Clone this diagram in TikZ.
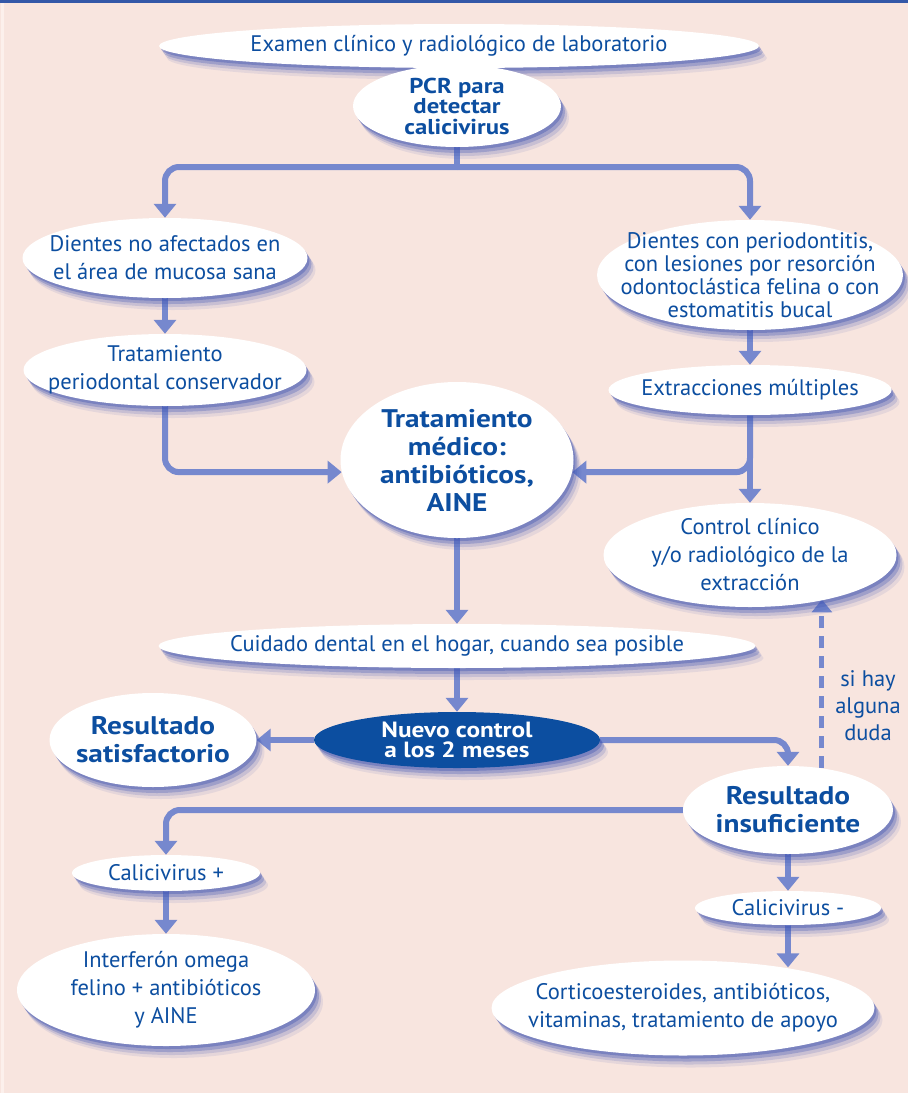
\documentclass[tikz,border=0pt]{standalone}
\usepackage{fontspec}
\setmainfont{PT Sans}[BoldFeatures={FakeStretch=1.15}]
\usetikzlibrary{positioning,arrows.meta,shapes.geometric,shadows,backgrounds}
\definecolor{pagepink}{RGB}{248,229,223}
\definecolor{edgepink}{RGB}{252,240,236}
\definecolor{barblue}{RGB}{52,88,168}
\definecolor{inkblue}{RGB}{12,78,160}
\definecolor{linkblue}{RGB}{118,136,206}
\definecolor{shadeblue}{RGB}{68,88,180}

\begin{document}
\begin{tikzpicture}[x=1pt,y=-1pt,
    softshadow/.style={
      drop shadow={shadow xshift=2pt,shadow yshift=-3pt,opacity=.4,fill=shadeblue},
      drop shadow={shadow xshift=4pt,shadow yshift=-6pt,opacity=.3,fill=shadeblue},
      drop shadow={shadow xshift=6pt,shadow yshift=-9pt,opacity=.18,fill=shadeblue},
      drop shadow={shadow xshift=8pt,shadow yshift=-12pt,opacity=.1,fill=shadeblue}},
    bubble/.style 2 args={ellipse,fill=white,text=inkblue,align=center,
      inner sep=-60pt,minimum width=#1pt,minimum height=#2pt,
      font=\fontsize{22.5}{28}\selectfont,softshadow},
    boldbubble/.style 2 args={bubble={#1}{#2},font=\bfseries\fontsize{25.5}{28}\selectfont},
    link/.style={line width=6pt,draw=linkblue,rounded corners=14pt},
    arrow/.style={link,-{Triangle[width=22pt,length=14pt]}},
    dasharrow/.style={line width=5pt,draw=linkblue,dash pattern=on 12pt off 8pt,
      -{Triangle[width=20pt,length=13pt]}}]
  \useasboundingbox (0,0) rectangle (908,1093);

  \node[bubble={600}{44}] (exam) at (459,46) {Examen clínico y radiológico de laboratorio};
  \node[boldbubble={208}{82},font=\bfseries\fontsize{21.5}{20.5}\selectfont] (pcr) at (457,106)
    {PCR para\\detectar\\calicivirus};
  \node[bubble={285}{80}] (sano) at (165,258) {Dientes no afectados en\\el área de mucosa sana};
  \node[bubble={306}{110},font=\fontsize{22.5}{22.8}\selectfont] (perio) at (750,275)
    {Dientes con periodontitis,\\con lesiones por resorción\\odontoclástica felina o con\\estomatitis bucal};
  \node[bubble={283}{72}] (tratp) at (165,370) {Tratamiento\\periodontal conservador};
  \node[bubble={283}{50}] (extr) at (750,390) {Extracciones múltiples};
  \node[boldbubble={233}{156}] (medico) at (457,460) {Tratamiento\\médico:\\antibióticos,\\AINE};
  \node[bubble={293}{104}] (control) at (750,555) {Control clínico\\y/o radiológico de la\\extracción};
  \node[bubble={597}{44}] (cuidado) at (457,646) {Cuidado dental en el hogar, cuando sea posible};
  \node[boldbubble={286}{56},fill=inkblue,text=white,font=\bfseries\fontsize{22}{20}\selectfont]
    (nuevo) at (457,740) {Nuevo control\\a los 2 meses};
  \node[boldbubble={207}{94}] (satis) at (153,740) {Resultado\\satisfactorio};
  \node[boldbubble={210}{88}] (insuf) at (788,810) {Resultado\\insuficiente};
  \node[bubble={188}{36}] (calip) at (166,873) {Calicivirus +};
  \node[bubble={298}{112}] (interf) at (166,990) {Interferón omega\\felino + antibióticos\\y AINE};
  \node[bubble={186}{34}] (calim) at (788,908) {Calicivirus -};
  \node[bubble={383}{95}] (cort) at (683,1008) {Corticoesteroides, antibióticos,\\vitaminas, tratamiento de apoyo};
  \node[text=inkblue,align=center,font=\fontsize{22.5}{27}\selectfont] (duda) at (868,706) {si hay\\alguna\\duda};

  \begin{scope}[on background layer]
    \fill[pagepink] (0,0) rectangle (908,1093);
    \fill[edgepink] (1,3) rectangle (4,1093);
    \fill[barblue] (0,0) rectangle (908,3);
    \coordinate (split) at (457,167);
    \draw[link] (pcr.south) -- (split);
    \draw[arrow] (split) -| (sano.north);
    \draw[arrow] (split) -| (perio.north);
    \draw[arrow] (sano.south) -- (tratp.north);
    \draw[arrow] (tratp.south) |- (medico.186);
    \draw[arrow] (perio.south) -- (extr.north);
    \draw[arrow] (extr.south) -- (control.north);
    \draw[arrow] (extr.south) |- (medico.354);
    \draw[arrow] (medico.south) -- (cuidado.north);
    \draw[arrow] (cuidado.south) -- (nuevo.north);
    \draw[arrow] (nuevo.west) -- (satis.east);
    \draw[arrow] (nuevo.east) -| (insuf.north);
    \draw[arrow] (insuf.west) -| (calip.north);
    \draw[arrow] (calip.south) -- (interf.north);
    \draw[arrow] (insuf.south) -- (calim.north);
    \draw[arrow] (calim.south) -- (calim.south |- cort.22);
    \draw[dasharrow] (insuf.51) -- (insuf.51 |- control.330);
  \end{scope}
\end{tikzpicture}
\end{document}
